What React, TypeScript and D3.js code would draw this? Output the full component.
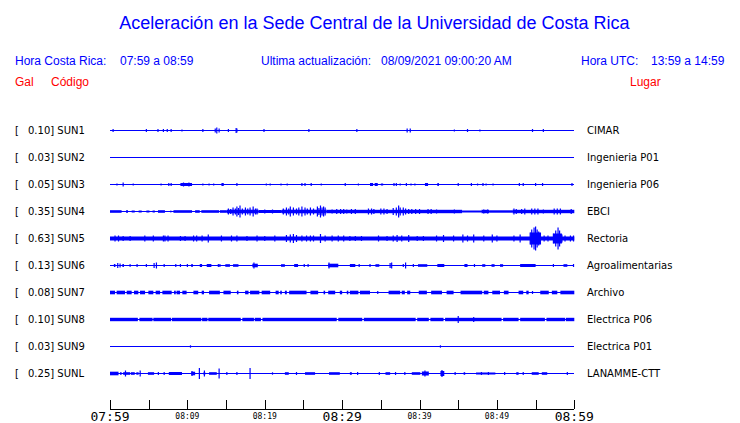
import React from "react";
import * as d3 from "d3";

// ---- data ----
const stationCodes = ["SUN1", "SUN2", "SUN3", "SUN4", "SUN5", "SUN6", "SUN7", "SUN8", "SUN9", "SUNL"];
const stationGal = ["0.10", "0.03", "0.05", "0.35", "0.63", "0.13", "0.08", "0.10", "0.03", "0.25"];
const stationPlaces = ["CIMAR", "Ingenieria P01", "Ingenieria P06", "EBCI", "Rectoria", "Agroalimentarias", "Archivo", "Electrica P06", "Electrica P01", "LANAMME-CTT"];
const tickLabels = ["07:59", "08:09", "08:19", "08:29", "08:39", "08:49", "08:59"];
const tickMinutes = [0, 10, 20, 30, 40, 50, 60];
const minorTickMinutes = [5, 15, 25, 35, 45, 55];

// bursts: [startMinute, endMinute, halfAmplitude]; spikes: [minute, halfAmplitude]
const sun1Bursts: number[][] = [];
const sun1Spikes = [[0.4,1.5],[4.7,1.5],[6.2,1.5],[6.9,1.5],[7.4,1.5],[7.9,1.5],[9.3,1],[12.0,1.5],[13.6,2],[13.8,3],[14.1,2],[15.3,1.5],[16.3,2.5],[16.4,2],[19.9,1.5],[25.7,1.5],[31.9,1.5],[38.4,2],[38.8,2],[44.5,1],[46.2,1.5],[47.8,1],[54.6,1.5],[56.0,1.5]];

const sun2Bursts: number[][] = [];
const sun2Spikes: number[][] = [];

const sun3Bursts = [[9.1,10.6,1.5],[14.4,14.7,1.5],[33.6,34.0,1.5],[34.2,34.6,1.5],[35.0,35.3,1],[40.7,41.1,1.5],[42.3,42.5,1.5]];
const sun3Spikes = [[0.9,1],[1.7,2],[3.0,1],[6.6,1],[7.6,1.5],[7.9,1.5],[9.5,2],[10.2,2],[12.0,1],[12.8,1],[13.4,1],[16.4,1.5],[20.2,1],[20.7,1],[22.1,1],[22.9,1],[24.8,1.5],[25.2,1.5],[26.0,1.5],[27.3,1],[30.4,1.5],[32.1,1],[36.7,1.5],[37.0,1.5],[37.5,1],[38.3,1.5],[38.9,1],[39.4,1],[45.0,1.5],[46.7,1.5],[47.5,1],[48.2,1.5],[48.6,1],[49.5,1],[52.9,1.5],[53.4,1.5],[55.0,1.5],[55.9,1.5],[59.7,1.5]];

const sun4Bursts = [[0,1.5,1.3],[2.1,2.3,1],[2.8,3.2,1],[3.7,4.1,1],[4.7,5.1,1],[5.5,5.8,1],[6.2,7.1,1.3],[7.8,7.9,1],[8.2,10.6,1.3],[11.0,11.6,1.3],[11.8,14.1,1.3],[14.2,15.1,1.3],[15.1,19.2,1.8],[19.2,22.2,1.5],[22.2,28.0,1.8],[28.0,45.5,1.7],[45.5,48,1.0],[48,49,1.7],[49,52,1.2],[52,60,1.7]];
const sun4Spikes = [[2.2,1.5],[15.3,3],[15.6,2.5],[15.9,4],[16.2,3],[16.4,5],[16.6,3.5],[16.8,6],[17.1,3],[17.5,4],[17.8,3],[18.1,4],[18.5,5],[18.8,3],[19.0,3],[20.0,2],[21.0,2],[22.4,3],[22.8,4],[23.1,3],[23.3,5],[23.7,4],[24.1,3],[24.4,4],[24.8,5],[25.2,4],[25.5,3],[25.9,4],[26.3,3],[26.8,5],[27.0,3.5],[27.2,6],[27.4,4],[27.6,5],[27.8,4],[28.7,2],[29.3,2.5],[29.8,2.5],[30.2,2.5],[30.6,2],[31.2,2.5],[31.7,2.5],[33.4,3],[33.8,3],[34.1,2.5],[35.0,3],[35.4,3],[35.8,2.5],[36.6,3.5],[37.0,4],[37.3,6],[37.5,4],[37.9,4],[38.2,3],[38.6,2.5],[39.0,2.5],[39.5,2.5],[40.0,2.5],[41.1,2.5],[41.5,2.5],[42.2,2],[44.5,2],[48.3,2],[48.8,2],[52.2,3],[52.5,2.5],[53.2,2.5],[53.6,3],[54.5,3],[54.9,3],[55.3,3],[56.0,2],[57.4,3],[57.8,3],[58.2,3],[59.6,2.5]];

const sun5Bursts = [[0,60,2],[54.3,55.7,6],[57.3,58.4,5]];
const sun5Spikes = [[0.65,3],[1.1,3],[1.7,2.5],[2.6,2.5],[4.5,3],[5.6,3],[6.9,3],[7.1,3],[7.5,3],[9.1,2.5],[9.7,2.5],[10.8,3],[11.2,3],[11.9,3],[12.7,4],[14.4,3],[15.7,3],[16.4,3],[17.7,2.5],[19.0,3],[20.0,2.5],[21.3,3],[22.8,3.5],[23.3,4],[23.7,4.5],[24.1,3.5],[24.8,3],[25.4,3],[25.9,3],[26.3,3],[27.2,4.5],[27.8,3],[28.7,3],[29.5,3],[30.2,3],[31.0,2.5],[31.7,2.5],[32.5,2.5],[34.7,3],[35.8,2.5],[36.6,3],[37.1,3.5],[37.7,3],[38.6,3.5],[39.7,2.5],[40.5,2.5],[42.2,3],[43.1,3.5],[44.4,3],[45.6,4],[46.2,3],[47.0,4],[48.3,3],[49.4,4],[50.0,3],[52.2,3],[53.0,4],[54.3,6],[54.5,9],[54.8,11],[55.0,12],[55.2,9],[55.4,7],[55.6,4],[56.1,3],[56.6,3],[57.3,5],[57.6,8],[57.9,11],[58.1,8],[58.4,4],[58.8,3],[59.5,3],[59.9,3]];

const sun6Bursts = [[0.5,0.7,1.5],[1.6,1.8,1.5],[2.5,2.7,1.2],[10.5,10.7,1.5],[11.6,11.9,1.5],[12.5,13.1,1.5],[14.9,15.5,1.3],[15.9,16.6,1.3],[18.4,19.1,1.8],[22.1,22.6,1.3],[23.8,24.3,1.5],[28.2,29.5,1.8],[31.0,31.7,1.5],[34.3,34.8,1.3],[39.8,41.0,1.3],[42.3,43.2,1.5],[45.8,46.2,1.5],[48.1,48.5,1.3],[49.3,49.7,1.3],[50.4,50.8,1.3],[53.0,55.0,1.5],[58.6,59.1,1.3]];
const sun6Spikes = [[1.0,2.5],[1.3,2],[3.5,1.5],[4.7,1.5],[5.7,2.5],[6.0,3],[7.0,1.5],[8.5,1.5],[9.1,1.5],[10.0,1.5],[14.0,1.5],[14.2,1.5],[18.6,3],[25.1,1.5],[25.6,1.5],[28.3,3],[32.2,1.5],[33.6,1.5],[36.2,2.5],[36.4,3],[37.9,1.5],[38.2,3],[39.2,1.5],[47.1,1.5],[57.3,1.5],[59.9,1.5]];

const sun7Bursts = [[0,0.65,1.8],[0.86,1.94,1.8],[2.16,2.8,1.8],[3.1,3.66,1.8],[3.88,4.53,1.8],[4.96,5.6,1.8],[5.9,6.47,1.8],[6.77,7.97,1.8],[8.28,8.5,1.8],[8.6,9.05,1.8],[9.35,9.9,1.8],[10.78,11.4,1.8],[11.85,12.15,1.8],[12.8,14.2,1.8],[14.66,15.6,1.8],[16.4,16.6,1.8],[17.46,17.9,1.8],[18.1,19.3,1.8],[19.6,20.7,1.8],[21.4,21.8,1.8],[22.0,22.2,1.8],[22.6,22.85,1.8],[23.15,25.4,1.8],[25.9,26.9,1.8],[27.6,27.8,1.8],[28.2,29.1,1.8],[29.7,30.0,1.8],[30.6,30.8,1.8],[31.0,32.1,1.8],[32.3,33.6,1.8],[36.0,37.5,1.8],[37.7,38.1,1.8],[38.4,38.8,1.8],[39.9,40.95,1.8],[41.5,42.9,1.8],[43.5,44.4,1.8],[45.3,48.1,1.8],[48.3,48.9,1.8],[49.4,50.4,1.8],[50.9,51.5,1.8],[52.8,53.4,1.8],[53.8,54.1,1.8],[55.6,56.7,1.8],[57.1,57.8,1.8],[58.2,60,1.8]];
const sun7Spikes = [[34.6,1.5],[54.6,1.5]];

const sun8Bursts = [[0,3.6,1.7],[3.8,5.5,1.7],[5.6,7.9,1.7],[8.0,11.8,1.7],[11.9,12.6,1.7],[12.7,16.9,1.7],[17.1,18.6,1.7],[18.7,19.5,1.7],[19.7,29.3,1.7],[29.5,32.6,1.7],[32.8,39.5,1.7],[39.7,41.2,1.7],[41.4,43.1,1.7],[43.3,50.6,1.7],[50.8,52.8,1.7],[53.0,56.2,1.7],[56.4,58.8,1.7],[58.9,60,1.7]];
const sun8Spikes = [[45.0,3.5],[47.0,2.5]];

const sun9Bursts: number[][] = [];
const sun9Spikes = [[10.4,1.2],[42.7,1.2]];

const sunLBursts = [[0,1.1,1.8],[1.3,1.5,1.3],[1.7,2.6,1.3],[2.7,3.2,1.3],[3.4,3.7,1.2],[4.9,5.7,1.3],[7.6,9.3,1.5],[10.5,11.0,1.8],[12.1,12.3,1.5],[12.8,13.8,1.3],[22.6,23.1,1.3],[25.2,26.5,1.3],[28.3,29.7,1.3],[31.0,31.25,1.3],[35.6,36.2,1.3],[39.0,40.1,1.3],[40.3,41.2,2],[42.7,43.2,2.5],[45.7,45.9,1.3],[47.3,49.8,1.0],[52.5,52.8,1.3],[54.5,55.4,1.3],[55.8,56.5,1.3]];
const sunLSpikes = [[2.0,3],[3.9,3],[6.25,1.5],[7.0,1.5],[10.6,2.5],[11.55,5.5],[12.2,3],[14.1,5],[15.1,1.5],[16.4,1.5],[18.1,5.5],[21.0,1.2],[24.1,1.5],[32.0,1.5],[34.8,1.5],[36.9,1.5],[38.1,1.5],[40.7,3],[42.9,3.5],[44.6,1.5],[48.0,1.5],[48.9,1.5],[51.0,1.5],[53.4,1.5],[59.1,1.5]];

const stationBursts = [sun1Bursts, sun2Bursts, sun3Bursts, sun4Bursts, sun5Bursts, sun6Bursts, sun7Bursts, sun8Bursts, sun9Bursts, sunLBursts];
const stationSpikes = [sun1Spikes, sun2Spikes, sun3Spikes, sun4Spikes, sun5Spikes, sun6Spikes, sun7Spikes, sun8Spikes, sun9Spikes, sunLSpikes];

// ---- layout ----
const W = 740, H = 423;
const BLUE = "#0000ff";
const RED = "#ff0000";
const SANS = "'Liberation Sans', Arial, Helvetica, sans-serif";
const DEJAVU = "'DejaVu Sans', sans-serif";
const MONO = "'DejaVu Sans Mono', monospace";

export default function App() {
  const x = d3.scaleLinear().domain([0, 60]).range([110, 574.3]);
  const y = d3.scalePoint<string>().domain(stationCodes).range([130, 373]);
  const amp = d3.scaleLinear().domain([0, 1]).range([0, 1]);
  const axisY = 409;

  return (
    <svg width={W} height={H} style={{ position: "absolute", left: 0, top: 0, background: "#fff" }}>
      {/* header */}
      <text x={374.5} y={29} textAnchor="middle" fontFamily={SANS} fontSize={18} fill={BLUE}>
        Aceleración en la Sede Central de la Universidad de Costa Rica
      </text>
      <g fontFamily={SANS} fontSize={12} fill={BLUE}>
        <text x={15} y={65}>Hora Costa Rica:</text>
        <text x={120} y={65}>07:59 a 08:59</text>
        <text x={261} y={65}>Ultima actualización:</text>
        <text x={381} y={65}>08/09/2021 09:00:20 AM</text>
        <text x={581} y={65}>Hora UTC:</text>
        <text x={651} y={65}>13:59 a 14:59</text>
      </g>
      <g fontFamily={SANS} fontSize={12} fill={RED}>
        <text x={15} y={86}>Gal</text>
        <text x={51} y={86}>Código</text>
        <text x={630} y={86}>Lugar</text>
      </g>

      {/* traces */}
      {stationCodes.map((code, i) => {
        const cy = (y(code) as number) + 0.5;
        return (
          <g key={code}>
            <text x={15} y={cy + 3.5} fontFamily={DEJAVU} fontSize={10} fill="#000">[</text>
            <text x={28} y={cy + 3.5} fontFamily={DEJAVU} fontSize={10} fill="#000">
              {stationGal[i]}] {code}
            </text>
            <text x={587} y={cy + 3.5} fontFamily={DEJAVU} fontSize={10} fill="#000">
              {stationPlaces[i]}
            </text>
            <rect x={x(0)} y={cy - 0.5} width={x(60) - x(0)} height={1} fill={BLUE} shapeRendering="crispEdges" />
            {stationBursts[i].map((b, j) => (
              <rect key={"b" + j} x={x(b[0])} y={cy - amp(b[2])} width={Math.max(1, x(b[1]) - x(b[0]))}
                height={2 * amp(b[2])} fill={BLUE} />
            ))}
            {stationSpikes[i].map((s, j) => (
              <rect key={"s" + j} x={x(s[0]) - 0.6} y={cy - amp(s[1])} width={1.2}
                height={2 * amp(s[1])} fill={BLUE} />
            ))}
          </g>
        );
      })}

      {/* time axis */}
      <g stroke="#000" strokeWidth={1} shapeRendering="crispEdges">
        <line x1={x(0)} x2={x(60)} y1={axisY + 0.5} y2={axisY + 0.5} />
        {tickMinutes.concat(minorTickMinutes).map((m) => (
          <line key={m} x1={Math.round(x(m)) + 0.5} x2={Math.round(x(m)) + 0.5} y1={400} y2={axisY} />
        ))}
      </g>
      {tickMinutes.map((m, i) => {
        const big = i % 3 === 0;
        return (
          <text key={m} x={x(m)} y={big ? 421 : 418.5} textAnchor="middle" fontFamily={MONO}
            fontSize={big ? 13 : 8} fill="#000">
            {tickLabels[i]}
          </text>
        );
      })}
    </svg>
  );
}
